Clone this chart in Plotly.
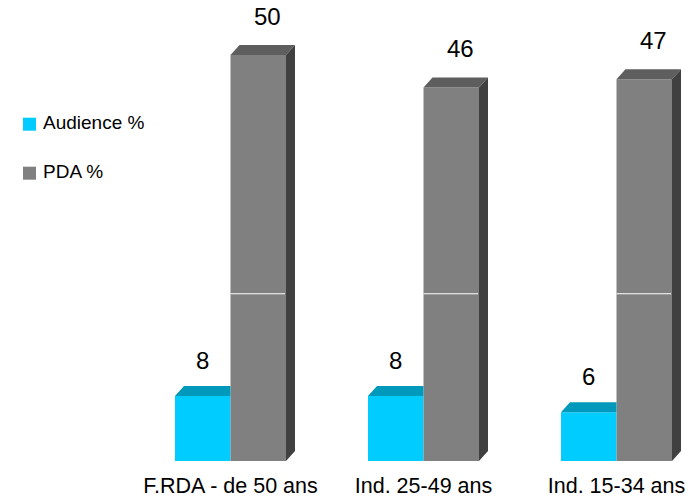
import plotly.graph_objects as go

# ---- data ----
categories = ["F.RDA - de 50 ans", "Ind. 25-49 ans", "Ind. 15-34 ans"]
audience = [8, 8, 6]
pda = [50, 46, 47]
series_names = ["Audience %", "PDA %"]

# ---- style ----
FONT = "Liberation Sans Narrow, Arial Narrow, Liberation Sans, Arial, sans-serif"
CYAN, CYAN_TOP = "#00CCFF", "#0099BB"
GRAY, GRAY_TOP, GRAY_SIDE = "#808080", "#5E5E5E", "#404040"
FIG_W, FIG_H = 695, 500
BASE_PX = 461              # baseline pixel row
PX_PER_UNIT_Y = 8.12
PX_PER_UNIT_X = 193.0
CENTER0_PX = 230.5
BAR_W = 55.5 / PX_PER_UNIT_X
DX = 9 / PX_PER_UNIT_X
DY = 10 / PX_PER_UNIT_Y
GRID_VALUE = 20.6

xs = list(range(len(categories)))
ymax = BASE_PX / PX_PER_UNIT_Y
xmin = -CENTER0_PX / PX_PER_UNIT_X
xmax = (FIG_W - CENTER0_PX) / PX_PER_UNIT_X

fig = go.Figure()
fig.add_trace(go.Bar(x=xs, y=audience, offset=-BAR_W, width=BAR_W, name=series_names[0],
                     marker=dict(color=CYAN, line=dict(width=0)), showlegend=False))
fig.add_trace(go.Bar(x=xs, y=pda, offset=0, width=BAR_W, name=series_names[1],
                     marker=dict(color=GRAY, line=dict(width=0)), showlegend=False))

# 3D faces (computed from the data values)
for x, v in zip(xs, audience):
    x0, x1 = x - BAR_W, x
    fig.add_trace(go.Scatter(x=[x0, x1, x1, x0 + DX, x0], y=[v, v, v + DY, v + DY, v],
                             fill="toself", fillcolor=CYAN_TOP, mode="lines",
                             line=dict(width=0, color=CYAN_TOP), hoverinfo="skip",
                             showlegend=False))
for x, v in zip(xs, pda):
    x0, x1 = x, x + BAR_W
    fig.add_trace(go.Scatter(x=[x0, x1, x1 + DX, x0 + DX, x0], y=[v, v, v + DY, v + DY, v],
                             fill="toself", fillcolor=GRAY_TOP, mode="lines",
                             line=dict(width=0, color=GRAY_TOP), hoverinfo="skip",
                             showlegend=False))
    fig.add_trace(go.Scatter(x=[x1, x1, x1 + DX, x1 + DX, x1], y=[0, v, v + DY, DY, 0],
                             fill="toself", fillcolor=GRAY_SIDE, mode="lines",
                             line=dict(width=0, color=GRAY_SIDE), hoverinfo="skip",
                             showlegend=False))

shapes = []
# white grid line over the gray front faces
for x in xs:
    shapes.append(dict(type="line", xref="x", yref="y", x0=x, x1=x + BAR_W - 1 / PX_PER_UNIT_X,
                       y0=GRID_VALUE, y1=GRID_VALUE, line=dict(color="white", width=1.2),
                       layer="above"))

annotations = []
for x, v in zip(xs, audience):
    annotations.append(dict(x=x - BAR_W / 2, y=v, text=str(v), showarrow=False, yshift=36,
                            yanchor="middle", xanchor="center",
                            font=dict(family=FONT, size=24, color="#000")))
for x, v in zip(xs, pda):
    annotations.append(dict(x=x + BAR_W / 2, y=v, text=str(v), showarrow=False, yshift=39,
                            xshift=9, yanchor="middle", xanchor="center",
                            font=dict(family=FONT, size=24, color="#000")))

# legend (manual)
leg_rows = [(117.7, CYAN), (166.7, GRAY)]
for (top, col), name in zip(leg_rows, series_names):
    shapes.append(dict(type="rect", xref="paper", yref="paper",
                       x0=23 / FIG_W, x1=36 / FIG_W,
                       y0=1 - (top + 13) / BASE_PX, y1=1 - top / BASE_PX,
                       fillcolor=col, line=dict(width=0)))
    annotations.append(dict(xref="paper", yref="paper", x=41 / FIG_W,
                            y=1 - (top + 4.5) / BASE_PX, text=name, showarrow=False,
                            xanchor="left", yanchor="middle",
                            font=dict(family=FONT, size=19, color="#000")))

fig.update_layout(
    width=FIG_W, height=FIG_H,
    margin=dict(l=0, r=0, t=0, b=FIG_H - BASE_PX),
    paper_bgcolor="white", plot_bgcolor="white",
    barmode="overlay",
    showlegend=False,
    hovermode=False,
    shapes=shapes, annotations=annotations,
    xaxis=dict(range=[xmin, xmax], tickvals=xs, ticktext=categories, showgrid=False,
               zeroline=False, showline=False, ticks="", automargin=False,
               ticklabelstandoff=9, fixedrange=True,
               tickfont=dict(family=FONT, size=21.5, color="#000")),
    yaxis=dict(range=[0, ymax], showgrid=False, zeroline=False, showline=False,
               showticklabels=False, ticks="", automargin=False, fixedrange=True),
)

fig.write_html("out.html", config={"displayModeBar": False},
               post_script="document.body.style.margin='0px';")
